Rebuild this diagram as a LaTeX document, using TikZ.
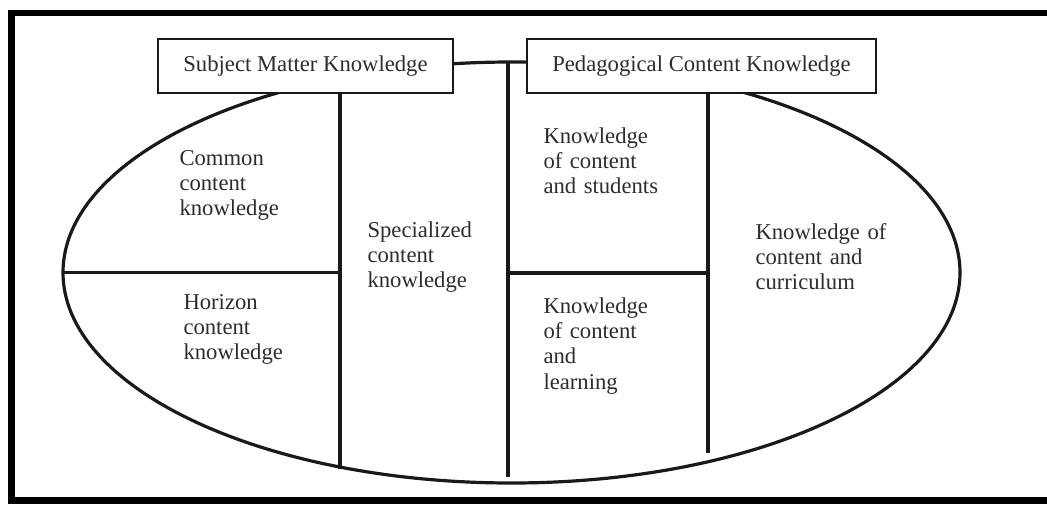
\documentclass[tikz,border=0pt]{standalone}
\usepackage{fontspec}
\setmainfont{Liberation Serif}
\definecolor{inkline}{RGB}{25,25,25}
\definecolor{inktext}{RGB}{45,45,45}
\tikzset{every picture/.style={line width=0.75pt}}

\begin{document}
\begin{tikzpicture}[x=0.75pt,y=0.75pt,yscale=-1,xscale=1,
  cellnote/.style={anchor=base west,inner sep=0pt,text width=150pt,align=left,text=inktext,font=\fontsize{17}{19}\selectfont},
  boxhead/.style={draw=inkline,line width=1.6pt,fill=white,inner sep=0pt,minimum height=40.5pt,text=inktext,font=\fontsize{17}{19}\selectfont},
  part/.style={draw=inkline,line width=2.4pt}]
\useasboundingbox (0,0) rectangle (1047,504);

%Frame (its right side lies beyond the page)
\draw [line width=5.2pt] (1047,13) -- (11.5,13) -- (11.5,500.5) -- (1047,500.5) ;

%Shape: Ellipse [id:knowledge domain]
\draw [part] (511.5,272.5) ellipse (448.5 and 210.5) ;
\coordinate (elW) at (63,272.5) ;
\coordinate (elT) at (508,62) ;

%Boxes
\node (smk) [boxhead,minimum width=221pt] at (305.5,66) {Subject Matter Knowledge};
\node (pck) [boxhead,minimum width=262pt] at (701.5,66) {Pedagogical Content Knowledge};

%Straight Lines
\coordinate (smkEnd) at (340,469) ;
\coordinate (midEnd) at (508,477) ;
\coordinate (pckEnd) at (708,453) ;
\draw [part] (smk.south -| smkEnd) -- (smkEnd) ;
\draw [part] (elT) -- (midEnd) ;
\draw [part] (pck.south -| pckEnd) -- (pckEnd) ;
\draw [part] (elW) -- (elW -| smkEnd) ;
\draw [part] (elT |- 0,273) -- (pckEnd |- 0,273) ;

% Text Node
\node (cck) [cellnote] at (179,165) {Common\\content\\knowledge};
% Text Node
\node (hck) [cellnote] at (183,309) {Horizon\\content\\knowledge};
% Text Node
\node (sck) [cellnote] at (367,237) {Specialized\\content\\knowledge};
% Text Node
\node (kcs) [cellnote] at (543,143) {Knowledge\\of content\\and students};
% Text Node
\node (kcl) [cellnote] at (543,313) {Knowledge\\of content\\and\\learning};
% Text Node
\node (kcc) [cellnote] at (755,239) {Knowledge of\\content and\\curriculum};

\end{tikzpicture}
\end{document}
